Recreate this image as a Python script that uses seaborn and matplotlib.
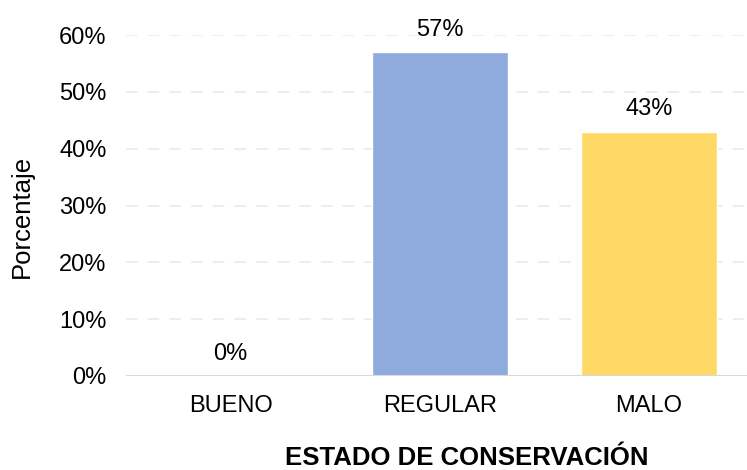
import pandas as pd
import seaborn as sns
import matplotlib.pyplot as plt

# Data
categorias = ['BUENO', 'REGULAR', 'MALO']
porcentajes = [0.0, 0.57, 0.43]
etiquetas = ['0%', '57%', '43%']
colores = ['#8FAADC', '#8FAADC', '#FFD966']
ticks_y = [0, 0.1, 0.2, 0.3, 0.4, 0.5, 0.6]
ticks_y_txt = ['0%', '10%', '20%', '30%', '40%', '50%', '60%']

df = pd.DataFrame({'estado': categorias, 'pct': porcentajes})

sns.set_style('white')
plt.rcParams['font.family'] = ['Liberation Sans', 'DejaVu Sans']
plt.rcParams['text.color'] = 'black'
plt.rcParams['xtick.color'] = 'black'
plt.rcParams['ytick.color'] = 'black'

fig = plt.figure(figsize=(7.47, 4.70), dpi=100)
ax = fig.add_axes([126 / 747, 94 / 470, 621 / 747, 341 / 470])

sns.barplot(data=df, x='estado', y='pct', hue='estado', palette=colores,
            width=0.65, legend=False, ax=ax, saturation=1)

# gridlines
for t in ticks_y[1:]:
    ax.axhline(t, color='#EAEAEA', lw=1.2, ls=(0, (7, 6)), zorder=0)
ax.axhline(0, color='#D9D9D9', lw=1.5, zorder=3)

# value labels
for i, (v, lab) in enumerate(zip(porcentajes, etiquetas)):
    ax.text(i, v + 0.02, lab, ha='center', va='bottom', fontsize=17, color='black')

ax.set_ylim(0, 0.6)
ax.set_xlim(-0.5, 2.47)
ax.set_yticks(ticks_y)
ax.set_yticklabels(ticks_y_txt, fontsize=17)
ax.tick_params(axis='x', labelsize=17, length=0, pad=14)
ax.tick_params(axis='y', length=0, pad=14)
ax.set_xlabel('')
ax.set_ylabel('')
for s in ax.spines.values():
    s.set_visible(False)

fig.text(467 / 747, 1 - 458 / 470, 'ESTADO DE CONSERVACIÓN', ha='center', va='center',
         fontsize=18.5, fontweight='bold')
fig.text(22 / 747, 1 - 216 / 470, 'Porcentaje', ha='center', va='center',
         rotation=90, fontsize=18.5)

fig.savefig('out.png', dpi=100)
